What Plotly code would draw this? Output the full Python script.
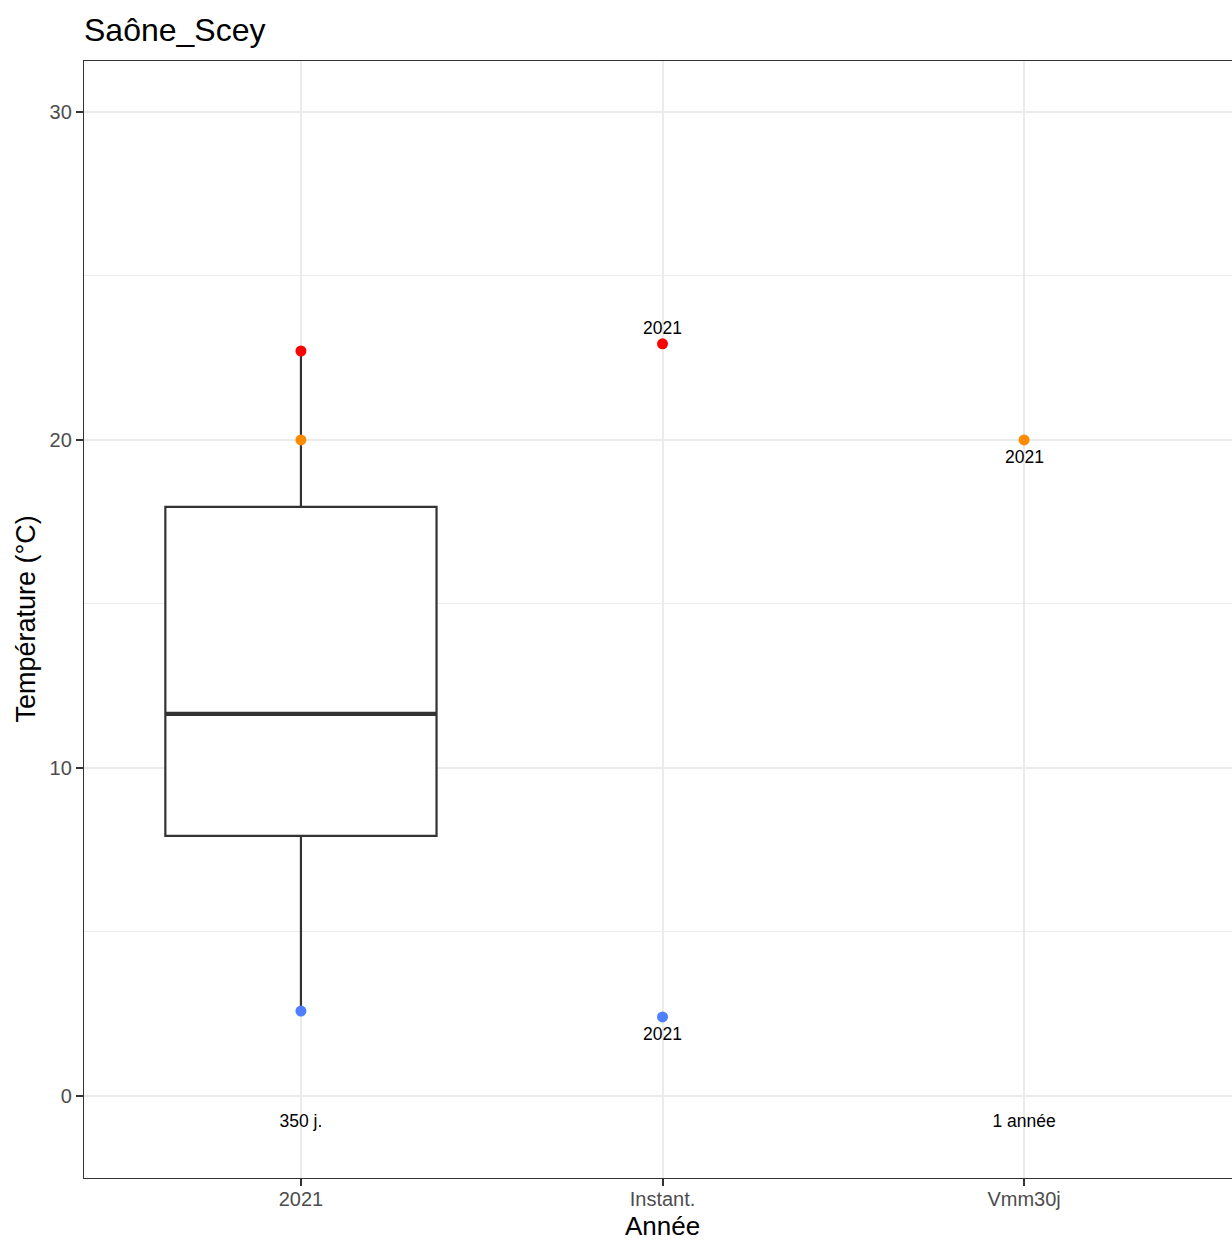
import plotly.graph_objects as go

# --- données ---
categories = ["2021", "Instant.", "Vmm30j"]
cat_pos = [0, 1, 2]

# boîte à moustaches 2021
box_q1 = 7.93
box_median = 11.65
box_q3 = 17.96
box_low = 2.59
box_high = 22.71

# points remarquables
max_x = [0, 1]
max_y = [22.71, 22.93]
min_x = [0, 1]
min_y = [2.59, 2.41]
vmm_x = [0, 2]
vmm_y = [20.0, 20.0]

# étiquettes
point_label = "2021"
count_x = [0, 2]
count_y = [-0.8, -0.8]
count_text = ["350 j.", "1 année"]

FONT = "Liberation Sans, Arial, Helvetica, sans-serif"
BOX_W = 0.75

fig = go.Figure()

fig.add_trace(go.Box(
    x=[cat_pos[0]],
    q1=[box_q1], median=[box_median], q3=[box_q3],
    lowerfence=[box_low], upperfence=[box_high],
    width=BOX_W, whiskerwidth=0,
    fillcolor="white",
    line=dict(color="#333333", width=2.2),
    showlegend=False, hoverinfo="skip",
))

# médiane épaisse (style ggplot)
fig.add_trace(go.Scatter(
    x=[cat_pos[0] - BOX_W / 2, cat_pos[0] + BOX_W / 2],
    y=[box_median, box_median],
    mode="lines", line=dict(color="#333333", width=4.2),
    showlegend=False, hoverinfo="skip",
))

# points
fig.add_trace(go.Scatter(
    x=max_x, y=max_y, mode="markers",
    marker=dict(color="#FF0000", size=11),
    showlegend=False,
))
fig.add_trace(go.Scatter(
    x=min_x, y=min_y, mode="markers",
    marker=dict(color="#4F7FFF", size=11),
    showlegend=False,
))
fig.add_trace(go.Scatter(
    x=vmm_x, y=vmm_y, mode="markers",
    marker=dict(color="#FF8C00", size=11),
    showlegend=False,
))

# nombre de jours / années
fig.add_trace(go.Scatter(
    x=count_x, y=count_y, mode="text", text=count_text,
    textfont=dict(size=17.5, color="black", family=FONT),
    showlegend=False, hoverinfo="skip",
))

# étiquettes "2021" (hors boîte) : au-dessus du max, sous le min et la Vmm30j
label_annots = []
for x, y, shift in [(max_x[1], max_y[1], 16), (min_x[1], min_y[1], -17), (vmm_x[1], vmm_y[1], -17)]:
    label_annots.append(dict(
        text=point_label, x=x, y=y, xref="x", yref="y",
        yshift=shift, showarrow=False, xanchor="center", yanchor="middle",
        font=dict(size=17.5, color="black", family=FONT),
    ))

fig.update_layout(
    width=1232, height=1241,
    margin=dict(l=84, r=0, t=61, b=63),
    paper_bgcolor="white", plot_bgcolor="white",
    font=dict(family=FONT),
    title=dict(
        text="Saône_Scey", x=0, xref="paper", xanchor="left",
        y=1 - 30 / 1241, yref="container", yanchor="middle",
        font=dict(size=32, color="black", family=FONT),
    ),
    xaxis=dict(
        range=[-0.6, 2.575],
        tickmode="array", tickvals=cat_pos, ticktext=categories,
        showgrid=True, gridcolor="#EBEBEB", gridwidth=2,
        zeroline=False,
        showline=True, mirror=True, linecolor="#333333", linewidth=1.3,
        ticks="outside", ticklen=7, tickwidth=1.5, tickcolor="#333333",
        ticklabelstandoff=-4,
        tickfont=dict(size=20, color="#4D4D4D", family=FONT),
    ),
    yaxis=dict(
        range=[-2.5, 31.55],
        tickmode="array", tickvals=[0, 10, 20, 30],
        showgrid=True, gridcolor="#EBEBEB", gridwidth=2,
        minor=dict(tickvals=[5, 15, 25], showgrid=True, gridcolor="#EBEBEB", gridwidth=1),
        zeroline=False,
        showline=True, mirror=False, linecolor="#333333", linewidth=1.3,
        ticks="outside", ticklen=7, tickwidth=1.5, tickcolor="#333333",
        tickfont=dict(size=20, color="#4D4D4D", family=FONT),
    ),
    annotations=label_annots + [
        dict(text="Année", xref="paper", yref="paper", x=0.5, y=0,
             xanchor="center", yanchor="middle", yshift=-(1226 - 1178),
             showarrow=False, font=dict(size=26, color="black", family=FONT),
             xshift=(662 - (84 + 1232) / 2)),
        dict(text="Température (°C)", xref="paper", yref="paper", x=0, y=0.5,
             xanchor="center", yanchor="middle", xshift=-(84 - 25),
             textangle=-90, showarrow=False,
             font=dict(size=27, color="black", family=FONT)),
    ],
)

# pas de marge autour du graphique dans la page
fig.write_html(
    "out.html",
    config={"displayModeBar": False},
    post_script="document.body.style.margin='0';document.body.style.overflow='hidden';",
)
